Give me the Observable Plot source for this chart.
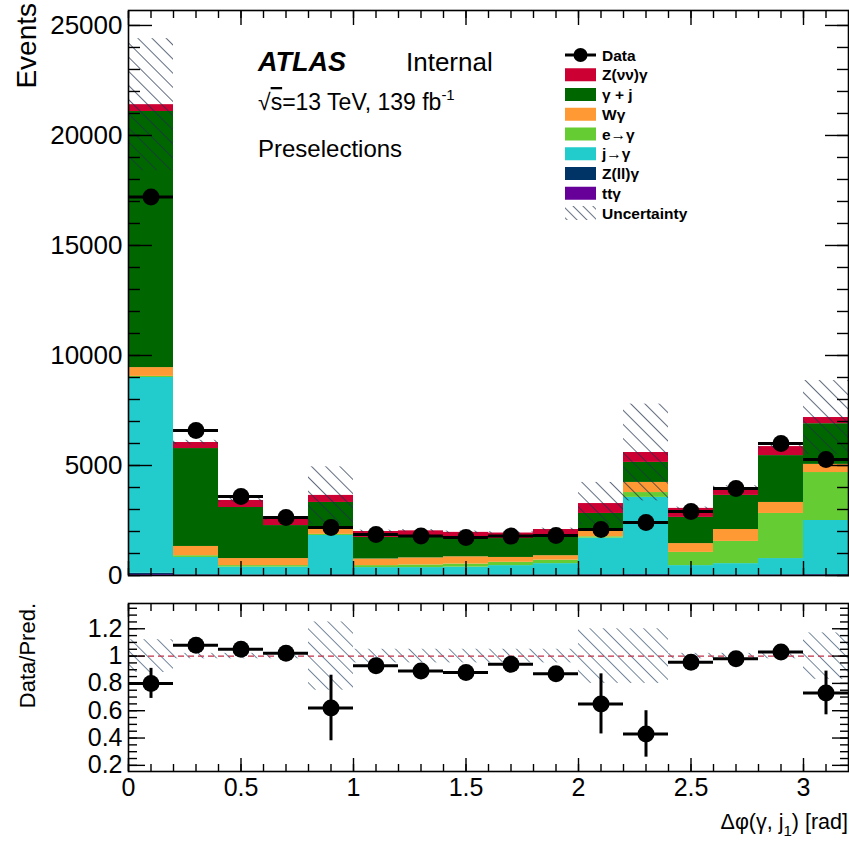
<!DOCTYPE html>
<html><head><meta charset="utf-8">
<script src="https://cdn.jsdelivr.net/npm/d3@7"></script>
<script src="https://cdn.jsdelivr.net/npm/@observablehq/plot@0.6"></script>
<style>body{margin:0;background:#fff} #chart svg{display:block}</style>
</head><body><div id="chart"></div>
<script>
// ---------- data ----------
const binEdges = [0,0.2,0.4,0.6,0.8,1.0,1.2,1.4,1.6,1.8,2.0,2.2,2.4,2.6,2.8,3.0,3.2];
const processes = ["ttγ","Z(ll)γ","j→γ","e→γ","Wγ","γ + j","Z(νν)γ"];   // stack order, bottom first
const processColors = ["#660099","#003366","#22cccc","#66cc33","#ff9933","#006600","#cc0033"];
const ttgamma   = [40,15,10,10,15,10,10,10,10,10,15,20,10,10,15,20];
const zllgamma  = [60,25,15,15,20,15,15,15,15,15,20,25,15,15,20,25];
const jetfake   = [8900,780,355,355,1785,335,335,355,425,515,1665,3505,425,515,735,2455];
const elefake   = [50,80,70,70,50,90,120,140,150,160,60,220,600,1010,2050,2180];
const wgamma    = [400,420,320,320,270,300,320,330,220,200,290,460,400,540,500,370];
const gammajet  = [11640,4450,2320,1500,1180,980,960,870,860,920,770,910,1190,1550,2130,1850];
const znunugamma= [310,275,320,310,320,270,270,240,250,270,450,450,410,360,410,280];
const dataEvents= [17200,6590,3590,2640,2180,1860,1800,1730,1790,1820,2090,2410,2910,3950,6000,5270];
const predUnc   = [3000,100,80,70,1300,60,60,60,60,60,960,2200,60,80,100,1680];
const ratioValues=[0.80,1.08,1.05,1.02,0.62,0.93,0.89,0.88,0.94,0.87,0.65,0.43,0.955,0.98,1.03,0.73];
const ratioErr  = [0.11,0.01,0.01,0.01,0.24,0.01,0.01,0.01,0.01,0.01,0.22,0.17,0.01,0.01,0.01,0.16];
const ratioBand = [0.12,0.02,0.02,0.02,0.25,0.05,0.05,0.05,0.05,0.05,0.20,0.20,0.02,0.02,0.02,0.17];

const yTicksTop = [0,5000,10000,15000,20000,25000];
const yTickLabelsTop = ["0","5000","10000","15000","20000","25000"];
const xTicks = [0,0.5,1,1.5,2,2.5,3];
const xTickLabels = ["0","0.5","1","1.5","2","2.5","3"];
const yTicksRatio = [0.2,0.4,0.6,0.8,1,1.2];
const yTickLabelsRatio = ["0.2","0.4","0.6","0.8","1","1.2"];

const legendLabels = ["Data","Z(νν)γ","γ + j","Wγ","e→γ","j→γ","Z(ll)γ","ttγ","Uncertainty"];

// ---------- tables ----------
const series = [ttgamma, zllgamma, jetfake, elefake, wgamma, gammajet, znunugamma];
const nBins = binEdges.length - 1;
const stackRows = [];
const bins = [];
for (let i = 0; i < nBins; i++) {
  let cum = 0;
  series.forEach((s, k) => {
    stackRows.push({lo: binEdges[i], hi: binEdges[i+1], proc: processes[k], y1: cum, y2: cum + s[i]});
    cum += s[i];
  });
  bins.push({lo: binEdges[i], hi: binEdges[i+1], mid: (binEdges[i]+binEdges[i+1])/2,
    total: cum, data: dataEvents[i], unc: predUnc[i],
    ratio: ratioValues[i], rerr: ratioErr[i], band: ratioBand[i]});
}

const xMinor = d3.range(0, 32).map(i => i / 10);
const yMinorTop = d3.range(0, 26).map(i => i * 1000);
const yMinorRatio = d3.range(4, 28).map(i => i * 0.05);

const FONT = "'Liberation Sans', Arial, Helvetica, sans-serif";
const W = 849;

function frameTicks(xMaj, xMin, yMaj, yMin, xl, xs, yl, ys) {
  return [
    Plot.axisY(yMin, {anchor: "left", tickSize: -ys, fill: "none", label: null, strokeWidth: 1.4}),
    Plot.axisY(yMaj, {anchor: "left", tickSize: -yl, fill: "none", label: null, strokeWidth: 1.4}),
    Plot.axisY(yMin, {anchor: "right", tickSize: -ys, fill: "none", label: null, strokeWidth: 1.4}),
    Plot.axisY(yMaj, {anchor: "right", tickSize: -yl, fill: "none", label: null, strokeWidth: 1.4}),
    Plot.axisX(xMin, {anchor: "bottom", tickSize: -xs, fill: "none", label: null, strokeWidth: 1.4}),
    Plot.axisX(xMaj, {anchor: "bottom", tickSize: -xl, fill: "none", label: null, strokeWidth: 1.4}),
    Plot.axisX(xMin, {anchor: "top", tickSize: -xs, fill: "none", label: null, strokeWidth: 1.4}),
    Plot.axisX(xMaj, {anchor: "top", tickSize: -xl, fill: "none", label: null, strokeWidth: 1.4}),
    Plot.frame({stroke: "black", strokeWidth: 1.6})
  ];
}

// ---------- main panel ----------
const mainPlot = Plot.plot({
  width: W, height: 590,
  marginLeft: 128, marginRight: 1, marginTop: 10, marginBottom: 15,
  style: {fontFamily: FONT, background: "white", color: "black"},
  x: {domain: [0, 3.2]},
  y: {domain: [0, 25680]},
  color: {domain: processes, range: processColors},
  marks: [
    Plot.rect(stackRows, {x1: "lo", x2: "hi", y1: "y1", y2: "y2", fill: "proc", inset: 0}),
    Plot.rect(bins, {x1: "lo", x2: "hi", y1: d => d.total - d.unc, y2: d => d.total + d.unc, fill: "url(#hatchTop)", inset: 0}),
    Plot.ruleY(bins, {x1: "lo", x2: "hi", y: "data", stroke: "black", strokeWidth: 3}),
    Plot.dot(bins, {x: "mid", y: "data", r: 8.5, fill: "black", stroke: "none"}),
    Plot.axisY(yTicksTop, {anchor: "left", tickSize: 0, tickPadding: 6, tickFormat: (d, i) => yTickLabelsTop[i], fontSize: 26, label: null}),
    ...frameTicks(xTicks, xMinor, yTicksTop, yMinorTop, 14, 7, 24, 12)
  ]
});

// ---------- ratio panel ----------
const ratioPlot = Plot.plot({
  width: W, height: 256,
  marginLeft: 128, marginRight: 1, marginTop: 13, marginBottom: 75,
  style: {fontFamily: FONT, background: "white", color: "black"},
  x: {domain: [0, 3.2]},
  y: {domain: [0.155, 1.385]},
  marks: [
    Plot.rect(bins, {x1: "lo", x2: "hi", y1: d => 1 - d.band, y2: d => 1 + d.band, fill: "url(#hatchRatio)", inset: 0}),
    Plot.ruleY([1], {stroke: "#c0304a", strokeWidth: 1.3, strokeDasharray: "6,4"}),
    Plot.ruleY(bins, {x1: "lo", x2: "hi", y: "ratio", stroke: "black", strokeWidth: 3}),
    Plot.ruleX(bins, {x: "mid", y1: d => d.ratio - d.rerr, y2: d => d.ratio + d.rerr, stroke: "black", strokeWidth: 3}),
    Plot.dot(bins, {x: "mid", y: "ratio", r: 8.5, fill: "black", stroke: "none"}),
    Plot.axisY(yTicksRatio, {anchor: "left", tickSize: 0, tickPadding: 6, tickFormat: (d, i) => yTickLabelsRatio[i], fontSize: 25, label: null}),
    Plot.axisX(xTicks, {anchor: "bottom", tickSize: 0, tickPadding: 7, tickFormat: (d, i) => xTickLabels[i], fontSize: 25, label: null}),
    ...frameTicks(xTicks, xMinor, yTicksRatio, yMinorRatio, 13, 7, 17, 9)
  ]
});

function addHatch(svg, id, color, spacing, sw) {
  const defs = d3.select(svg).insert("defs", ":first-child");
  const p = defs.append("pattern").attr("id", id).attr("patternUnits", "userSpaceOnUse")
    .attr("width", spacing).attr("height", spacing).attr("patternTransform", "rotate(-45)");
  p.append("line").attr("x1", 0).attr("y1", -1).attr("x2", 0).attr("y2", spacing + 1)
    .attr("stroke", color).attr("stroke-width", sw);
}
addHatch(mainPlot, "hatchTop", "#1f2f48", 10, 1.4);
addHatch(mainPlot, "hatchLegend", "#1f2f48", 7, 1.3);
addHatch(ratioPlot, "hatchRatio", "#2c4868", 9.5, 1.3);

// ---------- annotations (main) ----------
const gm = d3.select(mainPlot).append("g").attr("font-family", FONT).attr("fill", "black").attr("text-anchor", "start");
gm.append("text").attr("x", 258).attr("y", 71).attr("font-size", 27).attr("font-weight", "bold").attr("font-style", "italic").text("ATLAS");
gm.append("text").attr("x", 406).attr("y", 71).attr("font-size", 26).text("Internal");
const t2 = gm.append("text").attr("x", 258).attr("y", 110).attr("font-size", 23);
t2.append("tspan").text("√");
t2.append("tspan").attr("text-decoration", "overline").text("s");
t2.append("tspan").text("=13 TeV, 139 fb");
t2.append("tspan").attr("font-size", 15).attr("dy", -10).text("-1");
gm.append("text").attr("x", 258).attr("y", 157).attr("font-size", 24).text("Preselections");
gm.append("text").attr("transform", "translate(36,3) rotate(-90)").attr("text-anchor", "end").attr("font-size", 28).text("Events");

// legend
const lg = d3.select(mainPlot).append("g").attr("font-family", FONT).attr("text-anchor", "start");
legendLabels.forEach((lab, i) => {
  const cy = 55 + i * 19.75;
  if (i === 0) {
    lg.append("line").attr("x1", 565).attr("x2", 596).attr("y1", cy).attr("y2", cy).attr("stroke", "black").attr("stroke-width", 3);
    lg.append("circle").attr("cx", 580.5).attr("cy", cy).attr("r", 7).attr("fill", "black");
  } else if (i === legendLabels.length - 1) {
    lg.append("rect").attr("x", 565).attr("y", cy - 7).attr("width", 31).attr("height", 14).attr("fill", "url(#hatchLegend)");
  } else {
    const k = processes.indexOf(lab);
    lg.append("rect").attr("x", 565).attr("y", cy - 6.5).attr("width", 31).attr("height", 13).attr("fill", processColors[k]);
  }
  lg.append("text").attr("x", 602).attr("y", cy).attr("dy", "0.36em").attr("font-size", 15.5).attr("font-weight", "bold").attr("fill", "black").text(lab);
});

// ---------- annotations (ratio) ----------
const gr = d3.select(ratioPlot).append("g").attr("font-family", FONT).attr("fill", "black").attr("text-anchor", "start");
gr.append("text").attr("transform", "translate(35,13) rotate(-90)").attr("text-anchor", "end").attr("font-size", 22).text("Data/Pred.");
const xt = gr.append("text").attr("x", 848).attr("y", 239).attr("text-anchor", "end").attr("font-size", 21.5);
xt.append("tspan").text("Δφ(γ, j");
xt.append("tspan").attr("font-size", 15).attr("dy", 7).text("1");
xt.append("tspan").attr("dy", -7).text(") [rad]");

const chart = document.getElementById("chart");
chart.appendChild(mainPlot);
chart.appendChild(ratioPlot);
</script>
</body></html>
